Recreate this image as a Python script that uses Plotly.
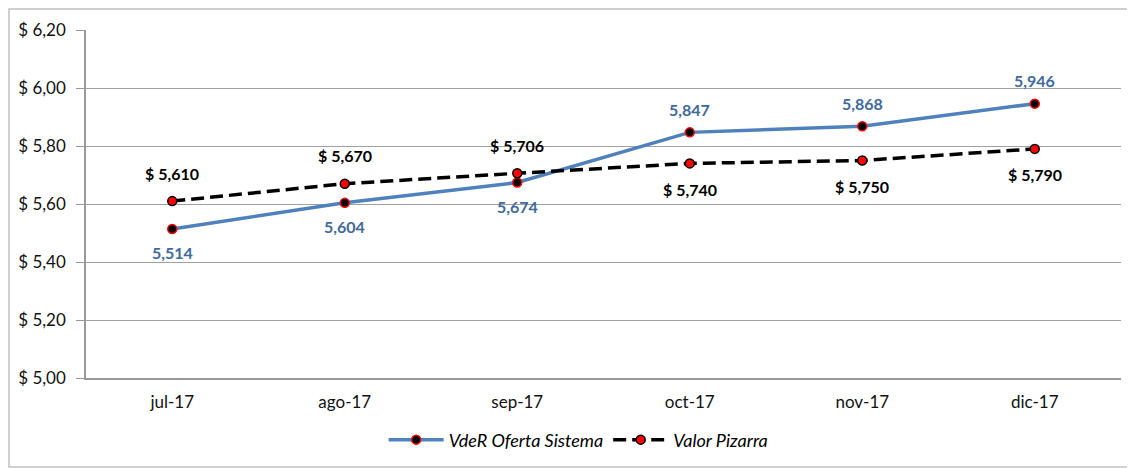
import plotly.graph_objects as go

categories = ["jul-17", "ago-17", "sep-17", "oct-17", "nov-17", "dic-17"]
vder = [5.514, 5.604, 5.674, 5.847, 5.868, 5.946]
pizarra = [5.610, 5.670, 5.706, 5.740, 5.750, 5.790]
vder_labels = ["5,514", "5,604", "5,674", "5,847", "5,868", "5,946"]
pizarra_labels = ["$ 5,610", "$ 5,670", "$ 5,706", "$ 5,740", "$ 5,750", "$ 5,790"]
vder_label_pos = ["below", "below", "below", "above", "above", "above"]
pizarra_label_pos = ["above", "above", "above", "below", "below", "below"]
y_ticks = [5.0, 5.2, 5.4, 5.6, 5.8, 6.0, 6.2]
y_tick_text = ["$ 5,00", "$ 5,20", "$ 5,40", "$ 5,60", "$ 5,80", "$ 6,00", "$ 6,20"]

FONT = "Lato, 'Open Sans', sans-serif"
BLUE = "#4F81BD"
BLUE_TEXT = "#40699C"

fig = go.Figure()
fig.add_trace(go.Scatter(
    x=categories, y=vder, mode="lines+markers", name="VdeR Oferta Sistema",
    line=dict(color=BLUE, width=3.5),
    marker=dict(color="black", size=9, line=dict(color="red", width=1.5)),
))
fig.add_trace(go.Scatter(
    x=categories, y=pizarra, mode="lines+markers", name="Valor Pizarra",
    line=dict(color="black", width=3.5, dash="13px,6px"),
    marker=dict(color="red", size=9, line=dict(color="black", width=1.5)),
))

annotations = []
for c, v, t, p in zip(categories, vder, vder_labels, vder_label_pos):
    annotations.append(dict(x=c, y=v, text="<b>%s</b>" % t, showarrow=False,
                            yshift=(23 if p == "above" else -24),
                            font=dict(family=FONT, size=16, color=BLUE_TEXT)))
for c, v, t, p in zip(categories, pizarra, pizarra_labels, pizarra_label_pos):
    annotations.append(dict(x=c, y=v, text="<b>%s</b>" % t, showarrow=False,
                            yshift=(28 if p == "above" else -26),
                            font=dict(family=FONT, size=16, color="black")))

fig.update_layout(
    width=1135, height=468,
    margin=dict(l=78, r=22, t=22, b=98, autoexpand=False),
    paper_bgcolor="white", plot_bgcolor="white",
    font=dict(family=FONT, size=17, color="black"),
    showlegend=True,
    legend=dict(orientation="h", x=0.476, xanchor="center", y=-0.178, yanchor="middle",
                font=dict(family=FONT, size=18, color="black", style="italic"),
                itemwidth=55, tracegroupgap=0),
    annotations=annotations,
    xaxis=dict(type="category", range=[-0.5, 5.5], showgrid=False, automargin=False,
               showline=True, linecolor="#999999", linewidth=1.5,
               ticks="", tickfont=dict(family=FONT, size=17, color="#111111"),
               ticklabelstandoff=8),
    yaxis=dict(range=[5.0, 6.2], tickvals=y_ticks, ticktext=y_tick_text, automargin=False,
               showgrid=True, gridcolor="#a0a0a0", gridwidth=1.2,
               showline=True, linecolor="#999999", linewidth=1.5,
               ticks="outside", ticklen=8, tickcolor="#999999",
               ticklabelstandoff=7,
               tickfont=dict(family=FONT, size=17, color="#111111"), zeroline=False),
    shapes=[dict(type="rect", xref="paper", yref="paper",
                 x0=-0.0744, x1=1.05, y0=-0.2557, y1=1.0603,
                 line=dict(color="#c0c0c0", width=1.5), fillcolor="rgba(0,0,0,0)",
                 layer="below")],
)

fig.write_html("out.html")
